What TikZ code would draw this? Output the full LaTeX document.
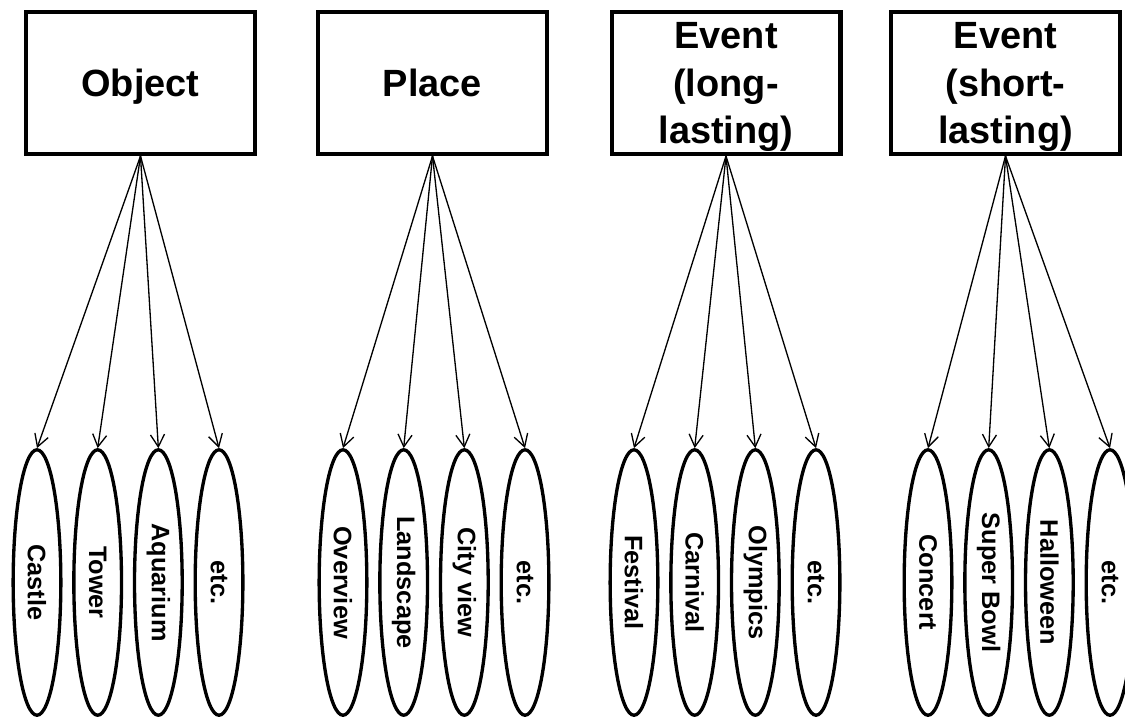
\documentclass[tikz,border=0pt]{standalone}
\usepackage{fontspec}
\setmainfont{Liberation Sans}
\usetikzlibrary{shapes.geometric, arrows.meta, positioning}
\tikzset{
  category/.style={rectangle,draw=black,line width=2.3pt,fill=white,minimum width=4.58cm,minimum height=2.84cm,
    align=center,inner sep=0pt,text depth=0pt,font=\fontsize{21.6pt}{27pt}\selectfont\bfseries},
  leaf/.style={ellipse,draw=black,line width=1.9pt,minimum width=0.954cm,minimum height=5.31cm,
    inner sep=0pt,font=\fontsize{14.4pt}{17pt}\selectfont\bfseries},
  link/.style={line width=0.75pt,-{Straight Barb[length=7pt,width=8pt]}},
}

\begin{document}
\begin{tikzpicture}[x=0.02cm,y=-0.02cm,node distance=0.193cm]
	    \useasboundingbox (0,0) rectangle (1125,718);
	    % categories
	    \node[category] (obj) at (140.5,83) {Object};
	    \node[category] (plc) at (432.5,83) {Place};
	    \node[category] (evl) at (726,83) {Event\\(long-\\lasting)};
	    \node[category] (evs) at (1005.5,83) {Event\\(short-\\lasting)};
	    % object
	    \node[leaf] (castle) at (37,582.5) {\rotatebox{-90}{Castle}};
	    \node[leaf,right=of castle] (tower) {\rotatebox{-90}{Tower}};
	    \node[leaf,right=of tower] (aquarium) {\rotatebox{-90}{Aquarium}};
	    \node[leaf,right=of aquarium] (objetc) {\rotatebox{-90}{etc.}};
	    % place
	    \node[leaf] (overview) at (343,582.5) {\rotatebox{-90}{Overview}};
	    \node[leaf,right=of overview] (landscape) {\rotatebox{-90}{Landscape}};
	    \node[leaf,right=of landscape] (cityview) {\rotatebox{-90}{City view}};
	    \node[leaf,right=of cityview] (plcetc) {\rotatebox{-90}{etc.}};
	    % long-lasting events
	    \node[leaf] (festival) at (634,582.5) {\rotatebox{-90}{Festival}};
	    \node[leaf,right=of festival] (carnival) {\rotatebox{-90}{Carnival}};
	    \node[leaf,right=of carnival] (olympics) {\rotatebox{-90}{Olympics}};
	    \node[leaf,right=of olympics] (evletc) {\rotatebox{-90}{etc.}};
	    % short-lasting events
	    \node[leaf] (concert) at (928,582.5) {\rotatebox{-90}{Concert}};
	    \node[leaf,right=of concert] (superbowl) {\rotatebox{-90}{Super Bowl}};
	    \node[leaf,right=of superbowl] (halloween) {\rotatebox{-90}{Halloween}};
	    \node[leaf,right=of halloween] (evsetc) {\rotatebox{-90}{etc.}};
	    % links
	    \foreach \leafname in {castle,tower,aquarium,objetc}
	    	\draw[link] (obj.south) -- (\leafname.north);
	    \foreach \leafname in {overview,landscape,cityview,plcetc}
	    	\draw[link] (plc.south) -- (\leafname.north);
	    \foreach \leafname in {festival,carnival,olympics,evletc}
	    	\draw[link] (evl.south) -- (\leafname.north);
	    \foreach \leafname in {concert,superbowl,halloween,evsetc}
	    	\draw[link] (evs.south) -- (\leafname.north);
	\end{tikzpicture}
\end{document}
